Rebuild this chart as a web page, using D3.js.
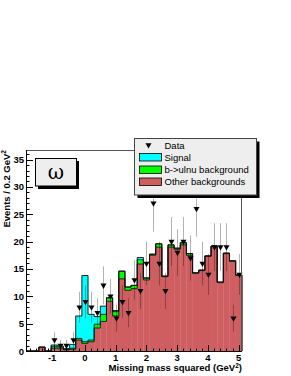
<!DOCTYPE html>
<html>
<head>
<meta charset="utf-8">
<script src="https://cdn.jsdelivr.net/npm/d3@7"></script>
<style>
  body { margin: 0; background: #fff; }
  text { font-family: "Liberation Sans", Arial, sans-serif; }
</style>
</head>
<body>
<div id="chart"></div>
<script>
// bin centres of the 0.2 GeV^2 bins
var binCenters = [-1.8, -1.6, -1.4, -1.2, -1.0, -0.8, -0.6, -0.4, -0.2, 0.0,
                  0.2, 0.4, 0.6, 0.8, 1.0, 1.2, 1.4, 1.6, 1.8, 2.0,
                  2.2, 2.4, 2.6, 2.8, 3.0, 3.2, 3.4, 3.6, 3.8, 4.0,
                  4.2, 4.4, 4.6, 4.8, 5.0];
var otherBkg = [0, 0, 0.7, 0, 0.5, 0.4, 0.2, 0.3, 2.0, 1.4,
                1.7, 4.2, 5.4, 9.1, 6.4, 13.2, 11.1, 11.4, 15.9, 13.0,
                17.5, 19.0, 13.6, 19.0, 18.6, 19.4, 17.5, 14.2, 14.7, 17.3,
                19.1, 12.5, 17.8, 16.4, 13.8];
var buBkg = [0, 0, 0, 0, 0.3, 0.3, 0.1, 0.2, 0.3, 0.3,
             0.3, 0.7, 1.3, 0.6, 0.8, 1.4, 0.6, 0.6, 0.8, 0.3,
             0.2, 0.6, 0.1, 0.4, 0.2, 0.4, 0.3, 0.1, 0.1, 0.1,
             0.1, 0.1, 0.1, 0.1, 0.1];
var signal = [0, 0, 0, 0, 0.3, 0.2, 0.15, 0.7, 4.1, 12.1,
              4.7, 1.4, 1.5, 0.05, 0.2, 0, 0, 0, 0.4, 0.1,
              0, 0, 0, 0, 0, 0, 0, 0, 0, 0,
              0, 0, 0, 0, 0];
var dataCounts = [0, 0, 0, 0, 2, 1, 1, 2, 8, 9,
                  8, 7, 12, 10, 6, 9, 7, 13, 11, 16,
                  27, 16, 11, 20, 18, 20, 17, 26, 16, 14,
                  19, 19, 19, 6, 14];
var xTicks = [-1, 0, 1, 2, 3, 4, 5];
var yTicks = [0, 5, 10, 15, 20, 25, 30, 35];
var legendLabels = ["Data", "Signal", "b->ulnu background", "Other backgrounds"];

window.onload = function() {
  var width = 291;
  var height = 376;
  var binW = 0.2;

  var svg = d3.select("#chart")
              .append("svg")
              .attr("width", width)
              .attr("height", height);

  var x = d3.scaleLinear().domain([-1.9, 5.1]).range([26.5, 241.8]);
  var y = d3.scaleLinear().domain([0, 36.75]).range([351, 150]);

  // build stacked table
  var rows = binCenters.map(function(c, i) {
    return {c: c, other: otherBkg[i], bu: buBkg[i], sig: signal[i]};
  });
  var stack = d3.stack().keys(["other", "bu", "sig"]);
  var layers = stack(rows);
  var colors = {other: "#cf5e61", bu: "#00ff00", sig: "#00ffff"};

  var g = svg.append("g");

  // filled bins
  layers.forEach(function(layer) {
    g.append("g").selectAll("rect")
      .data(layer)
      .enter()
      .append("rect")
      .attr("x", function(d) { return x(d.data.c - binW / 2); })
      .attr("width", function(d) { return x(d.data.c + binW / 2) - x(d.data.c - binW / 2) + 0.3; })
      .attr("y", function(d) { return y(d[1]); })
      .attr("height", function(d) { return Math.max(0, y(d[0]) - y(d[1])); })
      .style("fill", colors[layer.key]);
  });

  // step outlines for each level of the stack
  layers.forEach(function(layer) {
    var pts = [[binCenters[0] - binW / 2, 0]];
    layer.forEach(function(d) {
      pts.push([d.data.c - binW / 2, d[1]]);
      pts.push([d.data.c + binW / 2, d[1]]);
    });
    pts.push([binCenters[binCenters.length - 1] + binW / 2, 0]);
    g.append("path")
      .attr("d", d3.line().x(function(p) { return x(p[0]); }).y(function(p) { return y(p[1]); })(pts))
      .style("fill", "none")
      .style("stroke", "#111")
      .style("stroke-width", 0.9);
  });

  // data error bars and markers
  var dataPts = binCenters.map(function(c, i) { return {c: c, n: dataCounts[i]}; })
                          .filter(function(d) { return d.n > 0; });
  g.append("g").selectAll("line")
    .data(dataPts)
    .enter()
    .append("line")
    .attr("x1", function(d) { return Math.round(x(d.c)) + 0.5; })
    .attr("x2", function(d) { return Math.round(x(d.c)) + 0.5; })
    .attr("y1", function(d) { return y(d.n + Math.sqrt(d.n)); })
    .attr("y2", function(d) { return y(Math.max(0, d.n - Math.sqrt(d.n))); })
    .style("stroke", "#000")
    .style("stroke-opacity", 0.3)
    .style("stroke-width", 1);

  var tri = d3.symbol().type(d3.symbolTriangle).size(16);
  g.append("g").selectAll("path")
    .data(dataPts)
    .enter()
    .append("path")
    .attr("d", tri)
    .attr("transform", function(d) {
      return "translate(" + (Math.round(x(d.c)) + 0.5) + "," + y(d.n) + ") rotate(180)";
    })
    .style("fill", "#000");

  // frame
  svg.append("path")
    .attr("d", "M26.5,351.5 L26.5,150.5 L241.5,150.5 L241.5,351.5")
    .style("fill", "none")
    .style("stroke", "#555")
    .style("stroke-width", 1);

  // axes lines
  svg.append("line").attr("x1", 26.5).attr("x2", 26.5).attr("y1", 150).attr("y2", 352)
     .style("stroke", "#000");
  svg.append("line").attr("x1", 26).attr("x2", 242).attr("y1", 351.5).attr("y2", 351.5)
     .style("stroke", "#000");

  // y ticks
  var yMinor = d3.range(0, 37, 1);
  svg.append("g").selectAll("line")
    .data(yMinor)
    .enter()
    .append("line")
    .attr("x1", 26.5)
    .attr("x2", function(d) { return d % 5 === 0 ? 33 : 29.5; })
    .attr("y1", function(d) { return Math.round(y(d)) + 0.5; })
    .attr("y2", function(d) { return Math.round(y(d)) + 0.5; })
    .style("stroke", "#000")
    .style("stroke-width", 1);
  svg.append("g").selectAll("text")
    .data(yTicks)
    .enter()
    .append("text")
    .attr("x", 24)
    .attr("y", function(d) { return y(d) + 3.5; })
    .attr("text-anchor", "end")
    .style("font-size", "9.5px")
    .style("font-weight", "bold")
    .text(function(d) { return d; });

  // x ticks
  var xMinor = d3.range(-18, 51, 2).map(function(v) { return v / 10; });
  svg.append("g").selectAll("line")
    .data(xMinor)
    .enter()
    .append("line")
    .attr("x1", function(d) { return Math.round(x(d)) + 0.5; })
    .attr("x2", function(d) { return Math.round(x(d)) + 0.5; })
    .attr("y1", 351.5)
    .attr("y2", function(d) { return Math.abs(d - Math.round(d)) < 1e-6 ? 345 : 348.5; })
    .style("stroke", "#000")
    .style("stroke-width", 1);
  svg.append("g").selectAll("text")
    .data(xTicks)
    .enter()
    .append("text")
    .attr("x", function(d) { return x(d) - (d < 0 ? 2 : 0); })
    .attr("y", 361)
    .attr("text-anchor", "middle")
    .style("font-size", "9.5px")
    .style("font-weight", "bold")
    .text(function(d) { return d; });

  // axis titles
  var xt = svg.append("text")
    .attr("x", 242)
    .attr("y", 371)
    .attr("text-anchor", "end")
    .style("font-size", "9.5px")
    .style("font-weight", "bold");
  xt.append("tspan").text("Missing mass squared (GeV");
  xt.append("tspan").attr("dy", -3.5).style("font-size", "6.5px").text("2");
  xt.append("tspan").attr("dy", 3.5).text(")");

  var yt = svg.append("text")
    .attr("transform", "translate(9.5,150) rotate(-90)")
    .attr("text-anchor", "end")
    .style("font-size", "9.5px")
    .style("font-weight", "bold");
  yt.append("tspan").text("Events / 0.2 GeV");
  yt.append("tspan").attr("dy", -3.5).style("font-size", "6.5px").text("2");

  // omega label box
  svg.append("rect").attr("x", 38).attr("y", 161).attr("width", 41).attr("height", 28)
     .style("fill", "#000");
  svg.append("rect").attr("x", 35.5).attr("y", 158.5).attr("width", 41).attr("height", 27.5)
     .style("fill", "#eeeeee").style("stroke", "#000").style("stroke-width", 1);
  svg.append("text")
     .attr("x", 56).attr("y", 179)
     .attr("text-anchor", "middle")
     .style("font-family", "'DejaVu Serif', 'Liberation Serif', serif")
     .style("font-size", "20px")
     .text("\u03c9");

  // legend
  var lx = 134.5, ly = 138.5, lw = 122, lh = 56.5;
  svg.append("rect").attr("x", lx + 3).attr("y", ly + 3).attr("width", lw).attr("height", lh)
     .style("fill", "#000");
  svg.append("rect").attr("x", lx).attr("y", ly).attr("width", lw).attr("height", lh)
     .style("fill", "#eeeeee").style("stroke", "#444").style("stroke-width", 1);

  var rowY = [145, 157, 169.5, 181.5];
  var legendFill = [null, colors.sig, colors.bu, colors.other];
  legendLabels.forEach(function(lab, i) {
    if (legendFill[i]) {
      svg.append("rect")
        .attr("x", 139.5).attr("y", rowY[i] - 3.5).attr("width", 22).attr("height", 7.5)
        .style("fill", legendFill[i]).style("stroke", "#000").style("stroke-width", 0.8);
    } else {
      svg.append("path")
        .attr("d", tri)
        .attr("transform", "translate(148.5," + rowY[i] + ") rotate(180)")
        .style("fill", "#000");
    }
    svg.append("text")
      .attr("x", 164.5)
      .attr("y", rowY[i] + 3.5)
      .style("font-size", "9.5px")
      .text(lab);
  });
};
</script>
</body>
</html>
